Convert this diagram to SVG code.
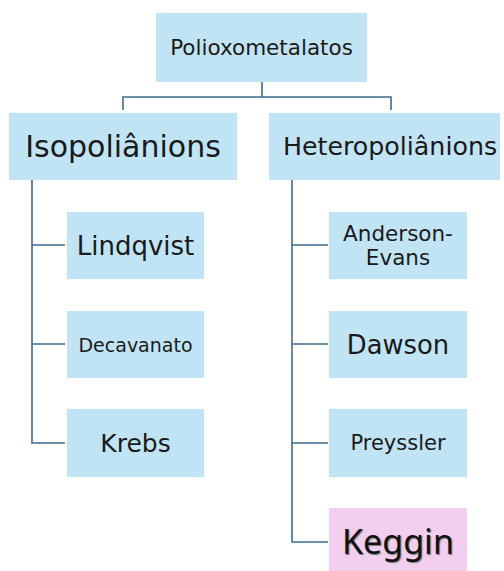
<svg xmlns="http://www.w3.org/2000/svg" width="504" height="571" viewBox="0 0 504 571">
<style>
.b{fill:#C1E4F5}
.k{fill:#F2CEEF}
.t{font-family:"DejaVu Sans","Liberation Sans",sans-serif;fill:#1a1a1a;text-anchor:middle;dominant-baseline:central}
.c{fill:none;stroke:#3E6C8F;stroke-width:1.6}
</style>
<rect width="504" height="571" fill="#fff"/>
<g id="connectors">
<path class="c" d="M262,82V97M123,110V97H391V110"/>
<path class="c" d="M32,180V443H65M32,245H65M32,344H65"/>
<path class="c" d="M292,180V542H328M292,245H328M292,344H328M292,443H328"/>
</g>
<g id="n-poli"><rect class="b" x="156" y="13" width="211" height="69"/><text class="t" x="261.5" y="47.5" font-size="21.5">Polioxometalatos</text></g>
<g id="n-iso"><rect class="b" x="9" y="113" width="228" height="67"/><text class="t" x="123" y="146.5" font-size="30">Isopoliânions</text></g>
<g id="n-hetero"><rect class="b" x="269" y="113" width="231" height="67"/><text class="t" x="390" y="146.5" font-size="25.3">Heteropoliânions</text></g>
<g id="n-lindqvist"><rect class="b" x="67" y="212" width="137" height="67"/><text class="t" x="135.5" y="245.5" font-size="26">Lindqvist</text></g>
<g id="n-decavanato"><rect class="b" x="67" y="311" width="137" height="67"/><text class="t" x="135.5" y="344.5" font-size="19">Decavanato</text></g>
<g id="n-krebs"><rect class="b" x="67" y="409" width="137" height="68"/><text class="t" x="135.5" y="443" font-size="25">Krebs</text></g>
<g id="n-anderson"><rect class="b" x="329" y="212" width="138" height="67"/><text class="t" x="398" y="233" font-size="21.5">Anderson-</text><text class="t" x="398" y="257" font-size="21.5">Evans</text></g>
<g id="n-dawson"><rect class="b" x="329" y="311" width="138" height="67"/><text class="t" x="398" y="344.5" font-size="25.8">Dawson</text></g>
<g id="n-preyssler"><rect class="b" x="329" y="409" width="138" height="68"/><text class="t" x="398" y="443" font-size="21">Preyssler</text></g>
<g id="n-keggin"><rect class="k" x="329" y="508" width="138" height="67"/><text x="398" y="541" font-size="34" font-family="Noto Sans, Liberation Sans, sans-serif" fill="#111" text-anchor="middle" dominant-baseline="central" style="text-shadow:1px 1px 1px #777">Keggin</text></g>
</svg>
